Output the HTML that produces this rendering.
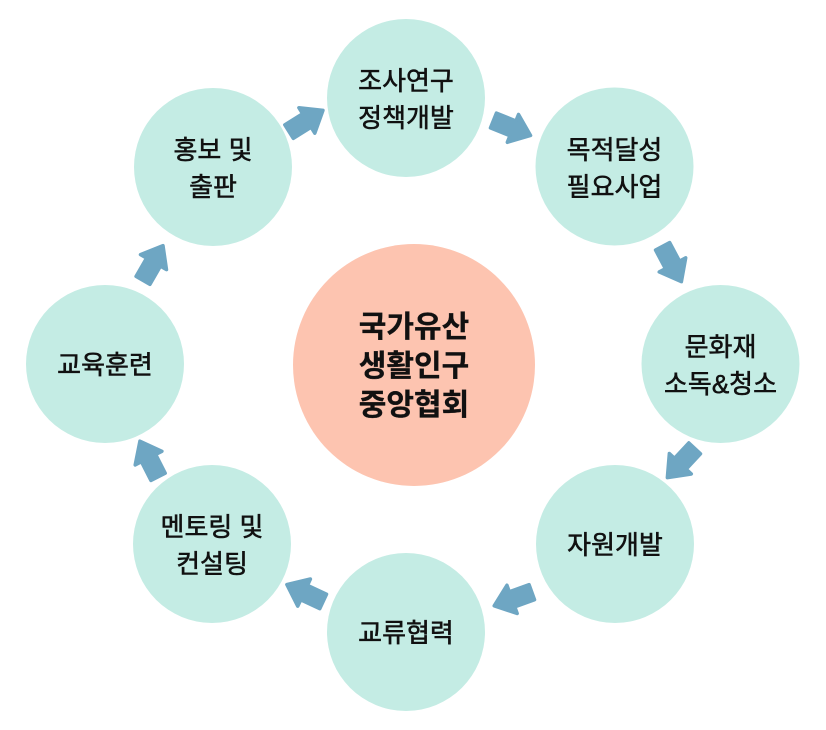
<!DOCTYPE html>
<html>
<head>
<meta charset="utf-8">
<style>
  html,body{margin:0;padding:0;background:#fff;}
  svg{display:block;}
  text{font-family:"Liberation Sans","Noto Sans CJK KR","NanumGothic",sans-serif;fill:#111;}
  .lbl{font-size:26px;font-weight:400;stroke:#111;stroke-width:0.55px;}
  .ctr{font-size:30px;font-weight:700;stroke:#111;stroke-width:0.3px;}
</style>
</head>
<body>
<svg width="826" height="730" viewBox="0 0 826 730" xmlns="http://www.w3.org/2000/svg">
  <defs>
    <path id="arr" d="M-20,-8 L1,-8 L1,-15 L20,0 L1,15 L1,8 L-20,8 Z" fill="#6ea6c3" stroke="#6ea6c3" stroke-width="3.5" stroke-linejoin="round"/>
  </defs>

  <!-- outer circles -->
  <circle cx="406" cy="98" r="79" fill="#c4ece4"/>
  <circle cx="614.5" cy="166.5" r="79" fill="#c4ece4"/>
  <circle cx="720.5" cy="364" r="79" fill="#c4ece4"/>
  <circle cx="615" cy="544" r="79" fill="#c4ece4"/>
  <circle cx="406" cy="632" r="79" fill="#c4ece4"/>
  <circle cx="212" cy="544" r="79" fill="#c4ece4"/>
  <circle cx="105" cy="364" r="79" fill="#c4ece4"/>
  <circle cx="213" cy="167" r="79" fill="#c4ece4"/>

  <!-- center -->
  <circle cx="414" cy="365" r="121" fill="#fdc4b0"/>

  <!-- arrows -->
  <use href="#arr" transform="translate(306,121) rotate(-32)"/>
  <use href="#arr" transform="translate(512,128) rotate(22)"/>
  <use href="#arr" transform="translate(672,264) rotate(62)"/>
  <use href="#arr" transform="translate(681,463) rotate(133)"/>
  <use href="#arr" transform="translate(513,599) rotate(160)"/>
  <use href="#arr" transform="translate(305,593) rotate(205)"/>
  <use href="#arr" transform="translate(149,459) rotate(243)"/>
  <use href="#arr" transform="translate(153,263) rotate(-60)"/>

  <!-- labels -->
  <text class="lbl" text-anchor="middle" x="406" y="90">조사연구</text>
  <text class="lbl" text-anchor="middle" x="406" y="127">정책개발</text>

  <text class="lbl" text-anchor="middle" x="614.5" y="159">목적달성</text>
  <text class="lbl" text-anchor="middle" x="614.5" y="196">필요사업</text>

  <text class="lbl" text-anchor="middle" x="720.5" y="356">문화재</text>
  <text class="lbl" text-anchor="middle" x="720.5" y="393">소독&amp;청소</text>

  <text class="lbl" text-anchor="middle" x="615" y="554">자원개발</text>

  <text class="lbl" text-anchor="middle" x="406" y="642">교류협력</text>

  <text class="lbl" text-anchor="middle" x="212" y="536">멘토링 및</text>
  <text class="lbl" text-anchor="middle" x="212" y="573">컨설팅</text>

  <text class="lbl" text-anchor="middle" x="105" y="374">교육훈련</text>

  <text class="lbl" text-anchor="middle" x="213" y="159">홍보 및</text>
  <text class="lbl" text-anchor="middle" x="213" y="196">출판</text>

  <text class="ctr" text-anchor="middle" x="414" y="337">국가유산</text>
  <text class="ctr" text-anchor="middle" x="414" y="376">생활인구</text>
  <text class="ctr" text-anchor="middle" x="414" y="415">중앙협회</text>
</svg>
</body>
</html>
